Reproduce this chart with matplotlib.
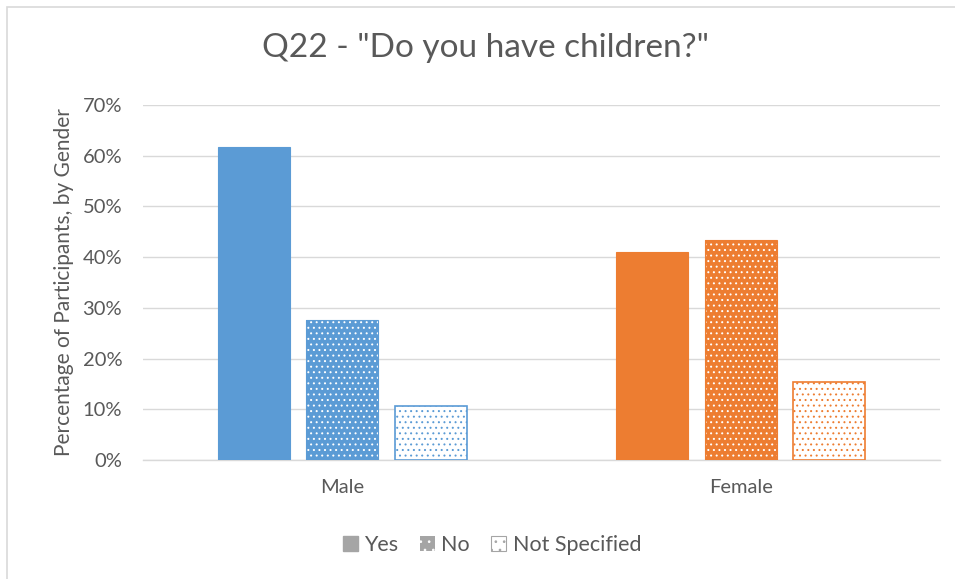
import matplotlib
import numpy as np

matplotlib.use("Agg")
import matplotlib.pyplot as plt
from matplotlib.patches import Patch, Rectangle

plt.rcParams["font.family"] = ["Lato", "DejaVu Sans"]
plt.rcParams["hatch.linewidth"] = 0.7

categories = ["Male", "Female"]
series = ["Yes", "No", "Not Specified"]
male_values = [61.7, 27.6, 10.6]
female_values = [41.0, 43.4, 15.4]
group_colors = ["#5b9bd5", "#ed7d31"]

TEXT = "#595959"

fig = plt.figure(figsize=(9.55, 5.79), dpi=100)
ax = fig.add_axes([143 / 955, 1 - 460 / 579, 797 / 955, 355 / 579])

x = np.arange(len(categories))
width = 0.18
step = 0.222

for gi, (vals, color) in enumerate(zip([male_values, female_values], group_colors)):
    for si, v in enumerate(vals):
        xpos = x[gi] + (si - 1) * step
        if si == 0:
            ax.bar(xpos, v, width, color=color, edgecolor=color, linewidth=0.8, zorder=3)
        elif si == 1:
            # white dots on the series colour
            ax.bar(xpos, v, width, color=color, edgecolor="white", hatch="...",
                   linewidth=0, zorder=3)
            ax.bar(xpos, v, width, fill=False, edgecolor=color, linewidth=0.8, zorder=4)
        else:
            # coloured dots on white
            ax.bar(xpos, v, width, color="white", edgecolor=color, hatch="...",
                   linewidth=0, zorder=3)
            ax.bar(xpos, v, width, fill=False, edgecolor=color, linewidth=1.2, zorder=4)

ax.set_xlim(-0.5, 1.5)
ax.set_ylim(0, 70)
ax.set_yticks(np.arange(0, 71, 10))
ax.set_yticklabels([f"{t}%" for t in range(0, 71, 10)])
ax.set_xticks(x)
ax.set_xticklabels(categories)
ax.tick_params(length=0, colors=TEXT, labelsize=14.5)
ax.tick_params(axis="y", pad=15)
ax.tick_params(axis="x", pad=14)
ax.grid(axis="y", color="#d9d9d9", linewidth=1, zorder=0)
for side in ["top", "right", "left"]:
    ax.spines[side].set_visible(False)
ax.spines["bottom"].set_color("#d9d9d9")
ax.spines["bottom"].set_linewidth(1)

ax.set_ylabel("Percentage of Participants, by Gender", color=TEXT, fontsize=15, labelpad=6)
fig.text(485 / 955, 1 - 48 / 579, 'Q22 - "Do you have children?"', ha="center", va="center",
         fontsize=24, color=TEXT)

gray = "#a5a5a5"
handles = [
    Patch(facecolor=gray, edgecolor=gray),
    Patch(facecolor=gray, edgecolor="white", hatch="..", linewidth=0),
    Patch(facecolor="white", edgecolor=gray, hatch="..", linewidth=0.8),
]
leg = fig.legend(handles, series, loc="center", bbox_to_anchor=(492 / 955, 1 - 545 / 579),
                 ncol=3, frameon=False, fontsize=15.5, handlelength=0.7, handleheight=0.7,
                 handletextpad=0.3, columnspacing=1.0)
for t in leg.get_texts():
    t.set_color(TEXT)

fig.patches.append(Rectangle((7 / 955, -0.1), 1.2, 1 - 7 / 579 + 0.1,
                             transform=fig.transFigure, fill=False,
                             edgecolor="#d9d9d9", linewidth=1.2))

fig.savefig("out.png", dpi=100)
